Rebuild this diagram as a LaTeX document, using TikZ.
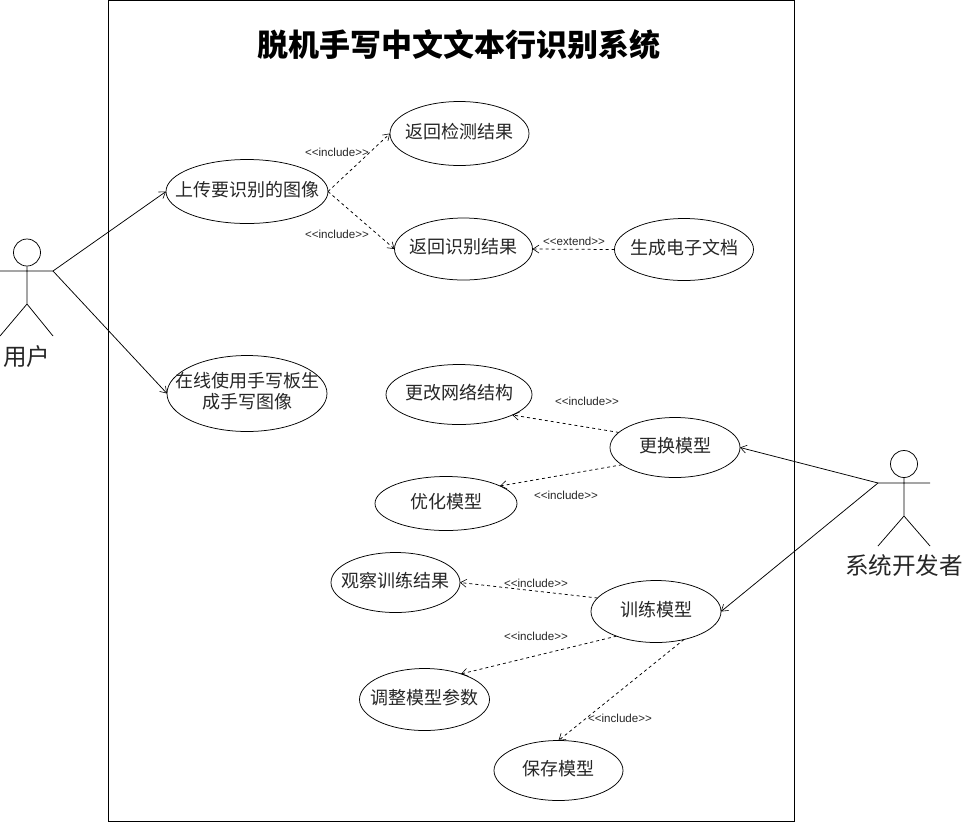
\documentclass[tikz,border=0pt]{standalone}
\usepackage{fontspec}
\setmainfont{Noto Sans CJK SC}
\newfontfamily\labelfont{Liberation Sans}
\usetikzlibrary{arrows.meta,shapes.geometric}
\tikzset{
  x=1pt,y=-1pt,
  usecase/.style={draw=black,line width=0.75pt,ellipse,inner sep=0pt,outer sep=0pt,font=\fontsize{18}{20}\selectfont,text=black!85},
  ln/.style={draw=black,line width=0.75pt},
  assoc/.style={ln,-{Straight Barb[length=6pt,width=8pt,line width=0.6pt]}},
  dep/.style={ln,dash pattern=on 3pt off 3pt,-{Straight Barb[length=6pt,width=8pt,line width=0.6pt]}},
  stereo/.style={inner sep=0pt,font=\labelfont\fontsize{11.6}{13}\selectfont,text=black!85},
  actorname/.style={inner sep=0pt,font=\fontsize{23.6}{26}\selectfont,text=black!85},
}
\begin{document}
\begin{tikzpicture}
\useasboundingbox (0,0) rectangle (964,831);
\node[ln,rectangle,minimum width=686pt,minimum height=821pt,inner sep=0pt,outer sep=0pt,anchor=north west] (frame) at (108,0) {};
\node[inner sep=0pt,font=\fontsize{31}{35}\selectfont\bfseries] (title) at (459,45) {脱机手写中文文本行识别系统};

\newcommand{\ucase}[5]{\node[usecase,minimum width=#3pt,minimum height=#4pt] (#1) at #2 {\makebox[0pt]{\raisebox{-2.5pt}{\begin{tabular}{@{}c@{}}#5\end{tabular}}}};}
\ucase{upload}{(247,191.5)}{162}{64}{上传要识别的图像}
\ucase{detect}{(459.5,133.5)}{139}{64}{返回检测结果}
\ucase{recog}{(463.5,249)}{138}{62}{返回识别结果}
\ucase{gen}{(684,249.5)}{139}{62}{生成电子文档}
\ucase{hand}{(247,393.5)}{160}{76}{在线使用手写板生\\成手写图像}
\ucase{change}{(459,394.5)}{146}{60}{更改网络结构}
\ucase{swap}{(675,447.5)}{130}{60}{更换模型}
\ucase{optim}{(446,503.5)}{142}{54}{优化模型}
\ucase{observe}{(395.5,582.5)}{129}{60}{观察训练结果}
\ucase{train}{(656,611.5)}{130}{62}{训练模型}
\ucase{adjust}{(424.5,699.5)}{130}{62}{调整模型参数}
\ucase{save}{(558.5,770.5)}{129}{60}{保存模型}

% user actor
\node[ln,circle,minimum size=27pt,inner sep=0pt] (uhead) at (27,252.5) {};
\coordinate (ulh) at (0,271);
\coordinate (urh) at (53,271);
\coordinate (uhip) at (27,304);
\coordinate (ulf) at (0,336);
\coordinate (urf) at (53,336);
\draw[ln] (uhead.south) -- (uhip) (ulh) -- (urh) (ulf) -- (uhip) -- (urf);
\node[actorname] (uname) at (27,357) {用户};

% developer actor
\node[ln,circle,minimum size=27pt,inner sep=0pt] (dhead) at (904,464) {};
\coordinate (dlh) at (878,483);
\coordinate (drh) at (930,483);
\coordinate (dhip) at (904,516);
\coordinate (dlf) at (878,546);
\coordinate (drf) at (930,546);
\draw[ln] (dhead.south) -- (dhip) (dlh) -- (drh) (dlf) -- (dhip) -- (drf);
\node[actorname] (dname) at (904,566) {系统开发者};

% associations
\draw[assoc] (urh) -- (upload.west);
\draw[assoc] (urh) -- (hand.west);
\draw[assoc] (dlh) -- (swap.east);
\draw[assoc] (dlh) -- (train.east);

% dependencies
\draw[dep] (upload.east) -- (detect.west);
\draw[dep] (upload.east) -- (recog.west);
\draw[dep] (gen.west) -- (recog.east);
\draw[dep] (swap.165) -- (change.-21);
\draw[dep] (swap.198) -- (optim.18);
\draw[dep] (train.167) -- (observe.east);
\draw[dep] (train.212) -- (adjust.35);
\draw[dep] (train.-45) -- (save.north);

% stereotypes
\node[stereo] (s1) at (337,152) {<<include>>};
\node[stereo] (s2) at (337,234) {<<include>>};
\node[stereo] (s3) at (574,241) {<<extend>>};
\node[stereo] (s4) at (587,401) {<<include>>};
\node[stereo] (s5) at (566,495) {<<include>>};
\node[stereo] (s6) at (536,583) {<<include>>};
\node[stereo] (s7) at (536,636) {<<include>>};
\node[stereo] (s8) at (620,718) {<<include>>};
\end{tikzpicture}
\end{document}
